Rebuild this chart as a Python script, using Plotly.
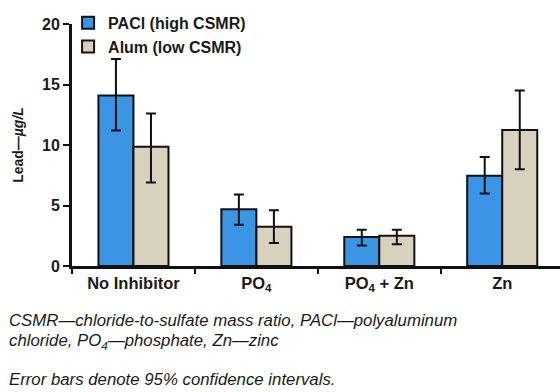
import plotly.graph_objects as go

# Lead release by treatment, two coagulants
categories = ["No Inhibitor", "PO<sub>4</sub>", "PO<sub>4</sub> + Zn", "Zn"]
paci_values = [14.1, 4.7, 2.4, 7.45]
paci_err_hi = [3.0, 1.2, 0.6, 1.55]
paci_err_lo = [2.9, 1.3, 0.7, 1.45]
alum_values = [9.85, 3.25, 2.5, 11.25]
alum_err_hi = [2.75, 1.35, 0.5, 3.25]
alum_err_lo = [2.95, 1.35, 0.7, 3.25]
y_ticks = [0, 5, 10, 15, 20]

x_pos = list(range(len(categories)))

BLUE = "#3b94e4"
GRAY = "#d7d1be"
FONT = "Liberation Sans, Arial, sans-serif"

fig = go.Figure()
fig.add_trace(go.Bar(
    x=x_pos, y=paci_values, name="PACl (high CSMR)",
    marker=dict(color=BLUE, line=dict(color="#111", width=2)),
    error_y=dict(type="data", symmetric=False, array=paci_err_hi,
                 arrayminus=paci_err_lo, color="#111", thickness=2, width=5),
))
fig.add_trace(go.Bar(
    x=x_pos, y=alum_values, name="Alum (low CSMR)",
    marker=dict(color=GRAY, line=dict(color="#111", width=2)),
    error_y=dict(type="data", symmetric=False, array=alum_err_hi,
                 arrayminus=alum_err_lo, color="#111", thickness=2, width=5),
))

fig.update_layout(
    width=560, height=392,
    margin=dict(l=72, r=0, t=24, b=126),
    paper_bgcolor="white", plot_bgcolor="white",
    barmode="group", bargap=0.43, bargroupgap=0,
    font=dict(family=FONT, color="#1a1a1a"),
    legend=dict(x=-0.008, y=1.075, xanchor="left", yanchor="top",
                font=dict(size=16, weight="bold"), tracegroupgap=0,
                bgcolor="rgba(0,0,0,0)", itemwidth=30),
    showlegend=True,
)

fig.update_xaxes(
    range=[-0.5, 3.47],
    tickmode="array", tickvals=x_pos, ticktext=categories,
    ticks="", tickfont=dict(size=16.5, weight="bold"),
    minor=dict(ticks="outside", tick0=-0.5, dtick=1, ticklen=5,
               tickwidth=2, tickcolor="#111"),
    showline=True, linecolor="#111", linewidth=3,
    showgrid=False, zeroline=False,
)
fig.update_yaxes(
    range=[0, 20],
    tickmode="array", tickvals=y_ticks,
    ticks="outside", ticklen=6, tickwidth=2, tickcolor="#111",
    tickfont=dict(size=16, weight="bold"),
    showline=True, linecolor="#111", linewidth=3,
    showgrid=False, zeroline=False,
    title=dict(text="Lead—<i>µg/L</i>", font=dict(size=14, weight="bold"), standoff=16),
)

notes = [
    ("CSMR—chloride-to-sulfate mass ratio, PACl—polyaluminum", 320),
    ("chloride, PO<sub>4</sub>—phosphate, Zn—zinc", 341),
    ("Error bars denote 95% confidence intervals.", 379),
]
for text, ypx in notes:
    fig.add_annotation(
        text=f"<i>{text}</i>", xref="paper", yref="paper",
        x=(7 - 72) / 488, y=(266 - ypx) / 242,
        xanchor="left", yanchor="middle", showarrow=False,
        font=dict(size=16.8, family=FONT, color="#1a1a1a"),
    )

fig.write_html("out.html")
